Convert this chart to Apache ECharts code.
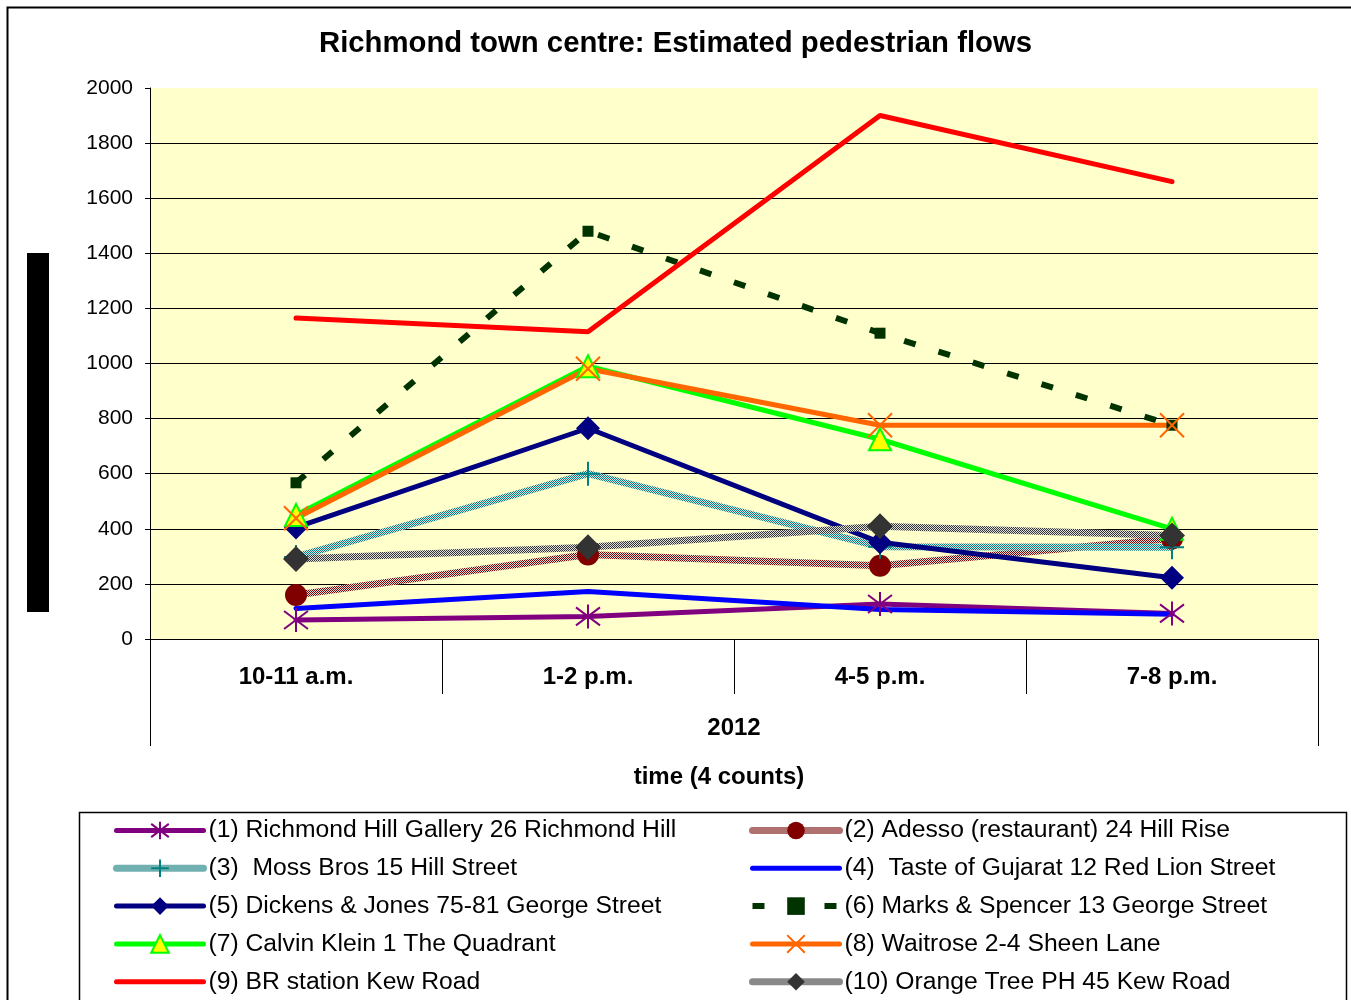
<!DOCTYPE html>
<html>
<head>
<meta charset="utf-8">
<title>Richmond town centre: Estimated pedestrian flows</title>
<script src="https://cdn.jsdelivr.net/npm/echarts@6/dist/echarts.min.js"></script>
<style>
  html, body { margin: 0; padding: 0; background: #ffffff; }
  #chart { width: 1351px; height: 1000px; }
</style>
</head>
<body>
<div id="chart"></div>
<script>
// Count periods (one day of counts in 2012)
var periods = ['10-11 a.m.', '1-2 p.m.', '4-5 p.m.', '7-8 p.m.'];
var yearLabel = ['2012'];
var yTicks = [0, 200, 400, 600, 800, 1000, 1200, 1400, 1600, 1800, 2000];

// Estimated pedestrian flows per count site
var richmondHillGallery = [69, 82, 127, 93];
var adesso = [160, 307, 266, 365];
var mossBros = [298, 600, 335, 333];
var tasteOfGujarat = [111, 172, 107, 90];
var dickensJones = [405, 765, 351, 222];
var marksSpencer = [567, 1480, 1110, 776];
var calvinKlein = [450, 990, 725, 400];
var waitrose = [438, 981, 776, 776];
var brStation = [1165, 1115, 1900, 1660];
var orangeTree = [290, 333, 409, 376];

var names = [
  '(1) Richmond Hill Gallery 26 Richmond Hill',
  '(2) Adesso (restaurant) 24 Hill Rise',
  '(3)  Moss Bros 15 Hill Street',
  '(4)  Taste of Gujarat 12 Red Lion Street',
  '(5) Dickens & Jones 75-81 George Street',
  '(6) Marks & Spencer 13 George Street',
  '(7) Calvin Klein 1 The Quadrant',
  '(8) Waitrose 2-4 Sheen Lane',
  '(9) BR station Kew Road',
  '(10) Orange Tree PH 45 Kew Road'
];

// Checkered stroke fill for the hatched lines
function hatch(color) {
  var c = document.createElement('canvas');
  c.width = 2; c.height = 2;
  var g = c.getContext('2d');
  g.fillStyle = '#e0e0e0';
  g.fillRect(0, 0, 2, 2);
  g.fillStyle = color;
  g.fillRect(0, 0, 1, 1);
  g.fillRect(1, 1, 1, 1);
  return { image: c, repeat: 'repeat' };
}

var ASTERISK = 'path://M0,-1L0,1M-1,-0.75L1,0.75M-1,0.75L1,-0.75';
var PLUS = 'path://M0,-1L0,1M-0.9,0L0.9,0';
var CROSS = 'path://M-1,-1L1,1M-1,1L1,-1';

function line(name, data, opts) {
  return {
    name: name,
    type: 'line',
    data: data,
    xAxisIndex: 0,
    yAxisIndex: 0,
    symbol: opts.symbol || 'none',
    symbolSize: opts.symbolSize || 10,
    showSymbol: opts.symbol ? true : false,
    animation: false,
    lineStyle: {
      color: opts.lineColor,
      width: opts.width || 5,
      type: opts.type || 'solid',
      cap: opts.type ? 'butt' : 'round'
    },
    itemStyle: {
      color: opts.fill || opts.color,
      borderColor: opts.border || opts.color,
      borderWidth: opts.borderWidth || 0
    },
    emphasis: { disabled: true }
  };
}

var series = [
  line(names[0], richmondHillGallery, { color: '#800080', lineColor: '#800080', symbol: ASTERISK, symbolSize: 24, fill: 'none', borderWidth: 2 }),
  line(names[1], adesso, { color: '#800000', lineColor: hatch('#800000'), width: 7, symbol: 'circle', symbolSize: 22 }),
  line(names[2], mossBros, { color: '#008080', lineColor: hatch('#008080'), width: 7, symbol: PLUS, symbolSize: 24, fill: 'none', borderWidth: 2 }),
  line(names[3], tasteOfGujarat, { color: '#0000FF', lineColor: '#0000FF' }),
  line(names[4], dickensJones, { color: '#000080', lineColor: '#000080', symbol: 'diamond', symbolSize: 24 }),
  line(names[5], marksSpencer, { color: '#003300', lineColor: '#003300', width: 6, type: [12, 24], symbol: 'rect', symbolSize: 11 }),
  line(names[6], calvinKlein, { color: '#00FF00', lineColor: '#00FF00', symbol: 'triangle', symbolSize: 22, fill: '#FFFF00', border: '#00FF00', borderWidth: 2 }),
  line(names[7], waitrose, { color: '#FF6600', lineColor: '#FF6600', symbol: CROSS, symbolSize: 24, fill: 'none', borderWidth: 2 }),
  line(names[8], brStation, { color: '#FF0000', lineColor: '#FF0000' }),
  line(names[9], orangeTree, { color: '#333333', lineColor: hatch('#333333'), width: 7, symbol: 'diamond', symbolSize: 26 })
];

var FONT = '"Liberation Sans", Arial, sans-serif';

// Legend entries; the two marker-less lines get no icon symbol
var noMarker = { color: 'rgba(0,0,0,0)', borderColor: 'rgba(0,0,0,0)', borderWidth: 0 };
function legendItems(idx) {
  return idx.map(function (i) {
    var item = { name: names[i] };
    if (i === 3 || i === 8) item.itemStyle = noMarker;
    return item;
  });
}

var legendCommon = {
  orient: 'vertical',
  top: 818,
  height: 400,
  itemWidth: 87,
  itemHeight: 22,
  itemGap: 12.8,
  itemTextGap: 0,
  selectedMode: false,
  padding: 0,
  lineStyle: { width: 'inherit', color: 'inherit', type: 'inherit', cap: 'inherit' },
  textStyle: { fontFamily: FONT, fontSize: 24.7, color: '#000000' }
};

// Grid lines cycle through these; the top line is left off
var splitColors = yTicks.map(function (v, i) { return i === yTicks.length - 1 ? 'rgba(0,0,0,0)' : '#000000'; });

var chart = echarts.init(document.getElementById('chart'), null, { renderer: 'canvas' });
chart.setOption({
  backgroundColor: '#ffffff',
  animation: false,
  title: {
    text: 'Richmond town centre: Estimated pedestrian flows',
    left: 'center',
    top: 24,
    textStyle: { fontFamily: FONT, fontSize: 29.3, fontWeight: 'bold', color: '#000000' }
  },
  grid: {
    left: 150, right: 33, top: 88, bottom: 361,
    show: true, backgroundColor: '#FFFFCC', borderWidth: 0
  },
  legend: [
    Object.assign({ left: 113, data: legendItems([0, 2, 4, 6, 8]) }, legendCommon),
    Object.assign({ left: 749, data: legendItems([1, 3, 5, 7, 9]) }, legendCommon)
  ],
  xAxis: [
    {
      type: 'category',
      data: periods,
      position: 'bottom',
      boundaryGap: true,
      axisLine: { show: true, lineStyle: { color: '#000000', width: 1 } },
      axisTick: { show: true, interval: 0, length: 55, lineStyle: { color: '#000000' } },
      axisLabel: { interval: 0, margin: 26, fontFamily: FONT, fontSize: 24, fontWeight: 'bold', color: '#000000' },
      splitLine: { show: false }
    },
    {
      type: 'category',
      data: yearLabel,
      position: 'bottom',
      offset: 0,
      boundaryGap: true,
      axisLine: { show: false },
      axisTick: { show: true, length: 107, lineStyle: { color: '#000000' } },
      axisLabel: { margin: 77, fontFamily: FONT, fontSize: 24, fontWeight: 'bold', color: '#000000' },
      name: 'time (4 counts)',
      nameLocation: 'middle',
      nameGap: 126,
      nameTextStyle: { fontFamily: FONT, fontSize: 24, fontWeight: 'bold', color: '#000000', padding: [0, 30, 0, 0] },
      splitLine: { show: false }
    }
  ],
  yAxis: {
    type: 'value',
    min: yTicks[0],
    max: yTicks[yTicks.length - 1],
    interval: 200,
    axisLine: { show: true, lineStyle: { color: '#000000', width: 1 } },
    axisTick: { show: true, length: 5, lineStyle: { color: '#000000' } },
    axisLabel: { margin: 17, fontFamily: FONT, fontSize: 21, color: '#000000', formatter: function (v) { return String(v); } },
    splitLine: { show: true, lineStyle: { color: splitColors, width: 1 } }
  },
  graphic: [
    { type: 'rect', shape: { x: 7.5, y: 7.5, width: 1400, height: 1100 }, style: { fill: 'none', stroke: '#000000', lineWidth: 2 }, silent: true, z: -1 },
    { type: 'rect', shape: { x: 79.5, y: 812.5, width: 1267, height: 300 }, style: { fill: 'none', stroke: '#000000', lineWidth: 1.5 }, silent: true },
    { type: 'rect', shape: { x: 27, y: 253, width: 22, height: 359 }, style: { fill: '#000000' }, silent: true }
  ],
  series: series
});
</script>
</body>
</html>
